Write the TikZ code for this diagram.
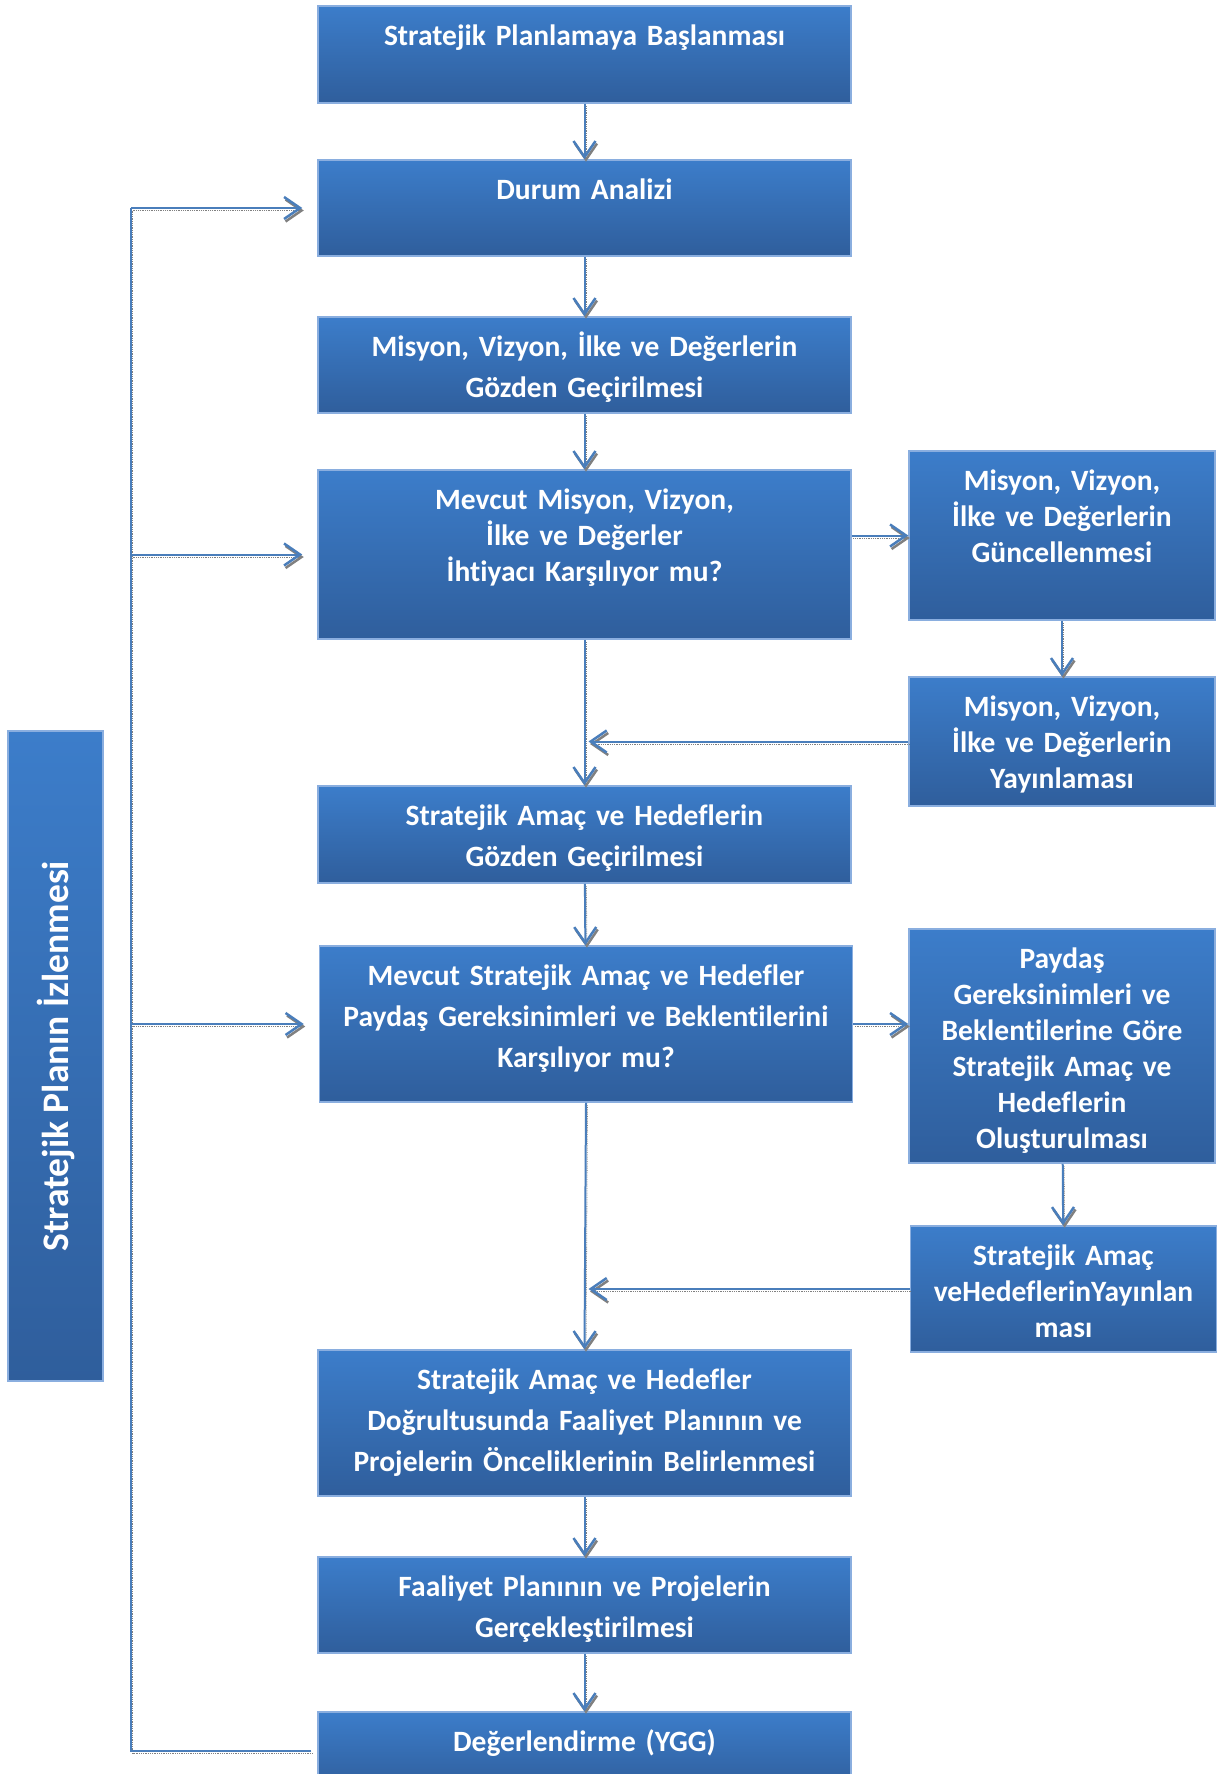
\documentclass[tikz,border=0pt]{standalone}
\usepackage{fontspec}
\setmainfont{Carlito}[Ligatures=NoCommon]
\usetikzlibrary{arrows.meta}
\definecolor{kutuust}{HTML}{3C7DCA}
\definecolor{kutualt}{HTML}{2F5E9C}
\definecolor{kenar}{HTML}{8AAEDF}
\definecolor{hat}{HTML}{4A7EBB}
\tikzset{
  kutu/.style={draw=kenar, line width=1.5pt, top color=kutuust, bottom color=kutualt,
    text=white, font=\bfseries\fontsize{29.5}{36}\selectfont, align=center,
    inner sep=0pt, text height=39.5pt, text depth=#1-39.5pt, minimum height=#1},
  ana/.style={kutu=#1, minimum width=533pt, text width=513pt},
  yan/.style={kutu=#1, minimum width=306pt, text width=296pt},
  genis/.style={font=\bfseries\fontsize{29.5}{41}\selectfont},
  golge/.style={preaction={draw=black!50, densely dotted, line width=0.8pt,
    transform canvas={shift={(1.5pt,-2.5pt)}}}},
  ok/.style={draw=hat, line width=2pt, golge,
    -{Straight Barb[length=16pt,width=22pt,line width=2.5pt]}},
  donus/.style={draw=hat, line width=2pt, golge},
}
\begin{document}
\begin{tikzpicture}[x=1pt, y=-1pt]
  \useasboundingbox (0,0) rectangle (1221,1774);

  % ana akis
  \node[ana=97pt] (basla) at (584.5,54.5) {Stratejik Planlamaya Başlanması};
  \node[ana=96pt] (durum) at (584.5,208) {Durum Analizi};
  \node[ana=96pt, genis] (gozden) at (584.5,365) {Misyon, Vizyon, İlke ve Değerlerin\\Gözden Geçirilmesi};
  \node[ana=169pt] (mevcut1) at (584.5,554.5) {Mevcut Misyon, Vizyon,\\İlke ve Değerler\\İhtiyacı Karşılıyor mu?};
  \node[ana=97pt, genis] (amac) at (584.5,834.5) {Stratejik Amaç ve Hedeflerin\\Gözden Geçirilmesi};
  \node[ana=156pt, genis] (mevcut2) at (586,1024) {Mevcut Stratejik Amaç ve Hedefler\\Paydaş Gereksinimleri ve Beklentilerini\\Karşılıyor mu?};
  \node[ana=146pt, genis] (faal) at (584.5,1423) {Stratejik Amaç ve Hedefler\\Doğrultusunda Faaliyet Planının ve\\Projelerin Önceliklerinin Belirlenmesi};
  \node[ana=96pt, genis] (gercek) at (584.5,1605) {Faaliyet Planının ve Projelerin\\Gerçekleştirilmesi};
  \node[ana=78pt] (deger) at (584.5,1751) {Değerlendirme (YGG)};

  % yan kutular
  \node[yan=169pt] (guncel) at (1062,535.5) {Misyon, Vizyon,\\İlke ve Değerlerin\\Güncellenmesi};
  \node[yan=129pt] (yayin1) at (1062,741.5) {Misyon, Vizyon,\\İlke ve Değerlerin\\Yayınlaması};
  \node[yan=234pt] (paydas) at (1062,1046) {Paydaş\\Gereksinimleri ve\\Beklentilerine Göre\\Stratejik Amaç ve\\Hedeflerin\\Oluşturulması};
  \node[yan=126pt] (yayin2) at (1063.5,1289) {Stratejik Amaç\\veHedeflerinYayınlan\\ması};

  % izleme
  \node[draw=kenar, line width=1.5pt, top color=kutuust, bottom color=kutualt,
    minimum width=95pt, minimum height=650pt, inner sep=0pt, text=white,
    font=\bfseries\fontsize{37.5}{44}\selectfont] (izleme) at (55.5,1056)
    {\rotatebox{90}{Stratejik Planın İzlenmesi}};

  % oklar
  \draw[ok] (basla) -- (durum);
  \draw[ok] (durum) -- (gozden);
  \draw[ok] (gozden) -- (mevcut1);
  \draw[ok] (mevcut1) -- (amac);
  \draw[ok] (amac) -- (mevcut2);
  \draw[ok] (mevcut2.south) -- (faal.north);
  \draw[ok] (faal) -- (gercek);
  \draw[ok] (gercek) -- (deger);
  \draw[ok] (mevcut1.east |- guncel.west) -- (guncel.west);
  \draw[ok] (guncel) -- (yayin1);
  \draw[ok, shorten >=4pt] (yayin1.west) -- (yayin1.west -| amac.north);
  \draw[ok] (mevcut2.east) -- (mevcut2.east -| paydas.west);
  \draw[ok] (paydas) -- (yayin2);
  \draw[ok, shorten >=4pt] (yayin2.west) -- (yayin2.west -| faal.north);

  % geri donus
  \coordinate (solust) at (131,208);
  \coordinate (solalt) at (131,1751);
  \draw[donus] ([xshift=-6pt]deger.west) -- (solalt) -- (solust);
  \draw[ok, shorten >=15pt] (solust) -- (durum.west);
  \draw[ok, shorten >=15pt] (solust |- mevcut1.west) -- (mevcut1.west);
  \draw[ok, shorten >=15pt] (solust |- mevcut2.west) -- (mevcut2.west);
\end{tikzpicture}
\end{document}
